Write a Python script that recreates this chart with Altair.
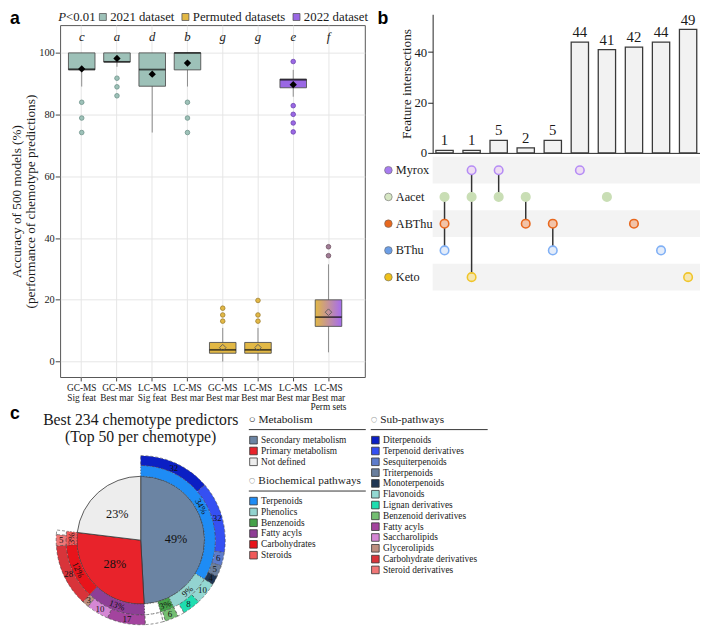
import json
import math
import altair as alt
import pandas as pd

SERIF = "Liberation Serif"
SANS = "Liberation Sans"
INK = "#1a1a1a"

# ---------------- panel a : model accuracy boxes ----------------
a_idx = [0, 1, 2, 3, 4, 5, 6, 7]
a_xlabels = [["GC-MS", "Sig feat"], ["GC-MS", "Best mar"], ["LC-MS", "Sig feat"], ["LC-MS", "Best mar"],
             ["GC-MS", "Best mar"], ["LC-MS", "Best mar"], ["LC-MS", "Best mar"], ["LC-MS", "Best mar", "Perm sets"]]
a_group = ["2021 dataset", "2021 dataset", "2021 dataset", "2021 dataset",
           "Permuted datasets", "Permuted datasets", "2022 dataset", "Perm sets"]
a_q1 = [94.5, 97.1, 89.2, 94.5, 2.7, 2.7, 88.7, 11.4]
a_median = [94.7, 97.1, 94.6, 100.0, 3.8, 3.8, 91.3, 14.4]
a_q3 = [100.0, 100.0, 100.0, 100.0, 6.2, 6.2, 91.5, 20.0]
a_low = [89.1, 95.5, 74.2, 89.1, 0.0, 0.3, 85.8, 3.0]
a_high = [100.0, 100.0, 100.0, 100.0, 10.9, 10.9, 94.5, 31.5]
a_mean = [94.8, 98.2, 93.1, 96.7, 4.5, 4.5, 89.7, 16.0]
a_letters = ["c", "a", "d", "b", "g", "g", "e", "f"]
a_out_idx = [0, 0, 0, 1, 1, 1, 3, 3, 3, 4, 4, 4, 5, 5, 5, 6, 6, 6, 6, 6, 7, 7]
a_out_val = [84.0, 78.9, 74.2, 91.8, 89.0, 86.1, 84.0, 78.9, 74.2, 17.3, 15.1, 13.1,
             19.8, 15.1, 13.1, 97.2, 82.9, 80.1, 77.3, 74.4, 34.3, 37.2]
a_legend = ["2021 dataset", "Permuted datasets", "2022 dataset"]
a_all_groups = ["2021 dataset", "Permuted datasets", "2022 dataset", "Perm sets"]

TEAL = "#9DC1B8"
GOLD = "#E2B845"
PURPLE = "#9A68E4"

box_df = pd.DataFrame({"idx": a_idx, "grp": a_group, "q1": a_q1, "med": a_median, "q3": a_q3,
                       "lo": a_low, "hi": a_high, "mean": a_mean, "letter": a_letters})
out_df = pd.DataFrame({"idx": a_out_idx, "val": a_out_val, "grp": [a_group[i] for i in a_out_idx]})

ya_scale = alt.Scale(domain=[-5, 109], nice=False, zero=False)
ya_axis = alt.Axis(values=[0, 20, 40, 60, 80, 100],
                   title=["Accuracy of 500 models (%)", "(performance of chemotype predictions)"],
                   titleFont=SERIF, titleFontSize=13.5, titleFontWeight="normal", titlePadding=1,
                   titleLineHeight=15, labelFont=SERIF, labelFontSize=10.5, labelPadding=1,
                   tickSize=5, grid=True, gridColor="#E6E6E6", domain=False)


def ya(field):
    return alt.Y(f"{field}:Q", scale=ya_scale, axis=ya_axis)


xa = alt.X("idx:O",
           scale=alt.Scale(type="band", paddingInner=0, paddingOuter=0.322, align=0.176),
           axis=alt.Axis(title=None, labelExpr=json.dumps(a_xlabels) + "[datum.value]", labelAngle=0,
                         labelFont=SERIF, labelFontSize=9.5, labelLineHeight=9.5, labelPadding=2,
                         tickSize=4, grid=True, gridColor="#E6E6E6", bandPosition=0.5, domain=False))

base_a = alt.Chart(box_df)
whisk = base_a.mark_rule(color="#8c8c8c", strokeWidth=1).encode(x=xa, y=ya("lo"), y2="hi")
boxes = base_a.transform_filter("datum.grp != 'Perm sets'").mark_bar(
    size=27, stroke="#505050", strokeWidth=0.9).encode(
    x=xa, y=ya("q1"), y2="q3",
    color=alt.Color("grp:N", scale=alt.Scale(domain=a_legend, range=[TEAL, GOLD, PURPLE]),
                    legend=alt.Legend(orient="none", legendX=37, legendY=-15, direction="horizontal",
                                      title=None, symbolType="square", symbolSize=50,
                                      symbolStrokeColor="#555", symbolStrokeWidth=0.8, symbolOpacity=1,
                                      labelFont=SERIF, labelFontSize=13, labelColor=INK, labelOffset=1,
                                      columnPadding=4, padding=0)))
gbox = base_a.transform_filter("datum.grp == 'Perm sets'").mark_bar(
    size=27, stroke="#505050", strokeWidth=0.9,
    fill=alt.LinearGradient(gradient="linear",
                            stops=[alt.GradientStop(color=GOLD, offset=0),
                                   alt.GradientStop(color="#A56CF0", offset=1)],
                            x1=0, x2=1, y1=0, y2=0)).encode(x=xa, y=ya("q1"), y2="q3")
med = base_a.mark_tick(size=27, thickness=1.8, color="#111").encode(x=xa, y=ya("med"))
outs = alt.Chart(out_df).mark_circle(size=22, strokeWidth=0.8, opacity=1).encode(
    x=xa, y=ya("val"),
    fill=alt.Fill("grp:N", scale=alt.Scale(domain=a_all_groups, range=[TEAL, GOLD, PURPLE, "#A07C96"]), legend=None),
    stroke=alt.Stroke("grp:N", scale=alt.Scale(domain=a_all_groups, range=["#6E938A", "#A08030", "#6E45B0", "#6E5060"]), legend=None))
mean_f = base_a.transform_filter("datum.grp == '2021 dataset' || datum.grp == '2022 dataset'").mark_point(
    shape="diamond", filled=True, size=55, color="#000", opacity=1).encode(x=xa, y=ya("mean"))
mean_h = base_a.transform_filter("datum.grp == 'Permuted datasets' || datum.grp == 'Perm sets'").mark_point(
    shape="diamond", filled=False, size=45, color="#5a5a5a", strokeWidth=0.9, opacity=1).encode(x=xa, y=ya("mean"))
letters = base_a.transform_calculate(ly="105").mark_text(
    font=SERIF, fontStyle="italic", fontSize=13, color=INK).encode(x=xa, y=ya("ly"), text="letter:N")

box_chart = alt.layer(whisk, boxes, gbox, med, outs, mean_f, mean_h, letters).properties(
    width=310, height=358, view=alt.ViewBackground(stroke="#555555", strokeWidth=1))

# header strip above the box plot (panel letter and significance note)
p1 = alt.Chart(pd.DataFrame({"t": ["P"]})).mark_text(
    font=SERIF, fontStyle="italic", fontSize=13, align="left", baseline="middle", color=INK).encode(
    x=alt.value(-2), y=alt.value(3), text="t:N")
p2 = alt.Chart(pd.DataFrame({"t": ["<0.01"]})).mark_text(
    font=SERIF, fontSize=13, align="left", baseline="middle", color=INK).encode(
    x=alt.value(6), y=alt.value(3), text="t:N")
la = alt.Chart(pd.DataFrame({"t": ["a"]})).mark_text(
    font=SANS, fontWeight="bold", fontSize=18, align="left", baseline="top", color="#000").encode(
    x=alt.value(-51), y=alt.value(-4), text="t:N")
header_a = alt.layer(p1, p2, la).properties(width=310, height=11)

panel_a = alt.vconcat(header_a, box_chart, spacing=0, bounds="flush").resolve_scale(
    color="independent", fill="independent", stroke="independent")

# ---------------- panel b : intersections ----------------
b_cols = [0, 1, 2, 3, 4, 5, 6, 7, 8, 9]
b_counts = [1, 1, 5, 2, 5, 44, 41, 42, 44, 49]
b_sets = ["Myrox", "Aacet", "ABThu", "BThu", "Keto"]
b_members = [["Aacet", "ABThu", "BThu"], ["Myrox", "Aacet", "Keto"], ["Myrox", "Aacet"], ["Aacet", "ABThu"],
             ["ABThu", "BThu"], ["Myrox"], ["Aacet"], ["ABThu"], ["BThu"], ["Keto"]]
b_label_col = ["#A87CF0", "#D6E6C3", "#E8681E", "#6C9EE6", "#EFC11B"]
b_fill_col = ["#EEDDF2", "#C9DEB5", "#F2C3A8", "#E3ECFA", "#F5E6B0"]
b_stroke_col = ["#B58CF5", "#C9DEB5", "#E8681E", "#80B0F5", "#F0C52A"]

bar_df = pd.DataFrame({"col": b_cols, "n": b_counts})
mem_rows = [{"col": c, "set": s} for c, ms in zip(b_cols, b_members) for s in ms]
mem_df = pd.DataFrame(mem_rows)
conn_rows = []
for c, ms in zip(b_cols, b_members):
    if len(ms) > 1:
        order = sorted(ms, key=b_sets.index)
        conn_rows.append({"col": c, "top": order[0], "bottom": order[-1]})
conn_df = pd.DataFrame(conn_rows)
set_df = pd.DataFrame({"set": b_sets})
stripe_df = pd.DataFrame({"set": b_sets[::2]})

B_W = 272
xb_scale = alt.Scale(type="band", domain=b_cols, paddingInner=0.36, paddingOuter=0.12)
xb_bars = alt.X("col:O", scale=xb_scale,
                axis=alt.Axis(labels=False, ticks=False, title=None, domain=True, domainColor="#222", grid=False))
yb = alt.Y("n:Q", scale=alt.Scale(domain=[0, 55], nice=False),
           axis=alt.Axis(values=[0, 20, 40], title="Feature intersections", titleFont=SERIF,
                         titleFontSize=13.5, titleFontWeight="normal", titlePadding=1,
                         labelFont=SERIF, labelFontSize=13, labelPadding=1, tickSize=5, grid=False,
                         domainColor="#222", tickColor="#222"))
bars = alt.Chart(bar_df).mark_bar(fill="#F2F2F2", stroke="#3a3a3a", strokeWidth=1.3).encode(x=xb_bars, y=yb)
bar_txt = alt.Chart(bar_df).mark_text(font=SERIF, fontSize=15, baseline="bottom", dy=-2, color=INK).encode(
    x=xb_bars, y=yb, text="n:Q")
lb = alt.Chart(pd.DataFrame({"t": ["b"]})).mark_text(
    font=SANS, fontWeight="bold", fontSize=18, align="left", baseline="top", color="#000").encode(
    x=alt.value(-56), y=alt.value(-4), text="t:N")
b_top = alt.layer(bars, bar_txt, lb).properties(width=B_W, height=141)

ym_scale = alt.Scale(type="band", domain=b_sets, paddingInner=0, paddingOuter=0)
ym_axis = alt.Axis(title=None, labelAlign="left", labelPadding=38, ticks=False, tickSize=0, domain=False,
                   labelFont=SERIF, labelFontSize=12.5, labelColor=INK, grid=False)
xm = alt.X("col:O", scale=xb_scale, axis=None)
stripes = alt.Chart(stripe_df).mark_rect(color="#F3F3F3").encode(
    y=alt.Y("set:N", scale=ym_scale, axis=ym_axis), x=alt.value(0), x2=alt.value(B_W))
side_dots = alt.Chart(set_df).mark_circle(size=60, stroke="#666", strokeWidth=0.6, opacity=1).encode(
    x=alt.value(-45), y=alt.Y("set:N", scale=ym_scale, axis=ym_axis),
    color=alt.Color("set:N", scale=alt.Scale(domain=b_sets, range=b_label_col), legend=None))
conns = alt.Chart(conn_df).mark_rule(color="#333", strokeWidth=1.5).encode(
    x=xm, y=alt.Y("top:N", scale=ym_scale, axis=ym_axis), y2=alt.Y2("bottom"))
dots = alt.Chart(mem_df).mark_circle(size=75, strokeWidth=1.6, opacity=1).encode(
    x=xm, y=alt.Y("set:N", scale=ym_scale, axis=ym_axis),
    fill=alt.Fill("set:N", scale=alt.Scale(domain=b_sets, range=b_fill_col), legend=None),
    stroke=alt.Stroke("set:N", scale=alt.Scale(domain=b_sets, range=b_stroke_col), legend=None))
b_matrix = alt.layer(stripes, side_dots, conns, dots).properties(width=B_W, height=136)

panel_b = alt.vconcat(b_top, b_matrix, spacing=4, bounds="flush").resolve_scale(
    color="independent", fill="independent", stroke="independent")

# ---------------- panel c : sunburst ----------------
TOTAL = 234
c_met_names = ["Secondary metabolism", "Primary metabolism", "Not defined"]
c_met_n = [115, 65, 54]
c_met_colors = ["#6B84A3", "#E8232B", "#EDEDED"]

c_path_names = ["Terpenoids", "Phenolics", "Benzenoids", "other", "Fatty acyls", "Carbohydrates", "Steroids"]
c_path_n = [79, 21, 7, 8, 30, 28, 7]
c_path_legend = ["Terpenoids", "Phenolics", "Benzenoids", "Fatty acyls", "Carbohydrates", "Steroids"]
c_path_colors = ["#1E8CF5", "#93D3D0", "#46A24A", "#8E3E96", "#E8141B", "#F05A5A"]

c_sub_names = ["Diterpenoids", "Terpenoid derivatives", "Sesquiterpenoids", "Triterpenoids", "Monoterpenoids",
               "Flavonoids", "Lignan derivatives", "other", "Benzenoid derivatives", "other", "other",
               "Fatty acyls", "Saccharolipids", "Glycerolipids", "Carbohydrate derivatives",
               "Steroid derivatives", "other"]
c_sub_n = [32, 32, 6, 5, 4, 10, 8, 3, 6, 1, 8, 17, 10, 3, 28, 5, 2]
c_sub_legend = ["Diterpenoids", "Terpenoid derivatives", "Sesquiterpenoids", "Triterpenoids", "Monoterpenoids",
                "Flavonoids", "Lignan derivatives", "Benzenoid derivatives", "Fatty acyls", "Saccharolipids",
                "Glycerolipids", "Carbohydrate derivatives", "Steroid derivatives"]
c_sub_colors = ["#0B1FC4", "#3550F2", "#5E7CCB", "#6A7F9E", "#1E3553", "#93D8D2", "#1FDDB0", "#74BE72",
                "#A3449E", "#D587D4", "#BD8F80", "#D8343A", "#F07777"]

R0, R1, R2 = 65, 76, 86


def ring_df(names, counts):
    return pd.DataFrame({"k": list(range(len(names))), "name": names, "n": counts})


def cum(chart):
    return chart.transform_window(cum="sum(n)", sort=[alt.SortField("k")], frame=[None, 0]).transform_calculate(
        start="datum.cum - datum.n", mid="datum.cum - datum.n / 2",
        pct="format(datum.n / %d * 100, '.0f') + '%%'" % TOTAL,
        deg="(datum.cum - datum.n / 2) / %d * 360" % TOTAL).transform_calculate(
        rot="((datum.deg > 90 && datum.deg < 270) ? datum.deg - 180 : datum.deg) + 360")


th_scale = alt.Scale(domain=[0, TOTAL], range=[0, 2 * math.pi])


def leg(title, values, x, y):
    return alt.Legend(orient="none", legendX=x, legendY=y, title=title, values=values,
                      titleFont=SERIF, titleFontSize=11.5, titleFontWeight="normal", titleColor=INK,
                      titlePadding=10, labelFont=SERIF, labelFontSize=9.5, labelColor=INK, labelOffset=3,
                      symbolType="square", symbolSize=60, symbolStrokeColor="#333", symbolStrokeWidth=0.8,
                      symbolOpacity=1, rowPadding=-1, padding=0)


met = cum(alt.Chart(ring_df(c_met_names, c_met_n)))
path = cum(alt.Chart(ring_df(c_path_names, c_path_n)))
sub = cum(alt.Chart(ring_df(c_sub_names, c_sub_n)))

met_arc = met.mark_arc(radius=R0, stroke="#333", strokeWidth=0.8).encode(
    theta=alt.Theta("start:Q", scale=th_scale), theta2="cum",
    color=alt.Color("name:N", scale=alt.Scale(domain=c_met_names, range=c_met_colors),
                    legend=leg("○ Metabolism", c_met_names, 192, -46)))
path_arc = path.mark_arc(radius=R1, radius2=R0, stroke="#444", strokeWidth=0.6, strokeDash=[1.5, 1.5]).encode(
    theta=alt.Theta("start:Q", scale=th_scale), theta2="cum",
    color=alt.Color("name:N", scale=alt.Scale(domain=c_path_legend + ["other"], range=c_path_colors + ["#FFFFFF"]),
                    legend=leg("◌ Biochemical pathways", c_path_legend, 192, 16)))
sub_arc = sub.mark_arc(radius=R2, radius2=R1, stroke="#444", strokeWidth=0.6, strokeDash=[3, 2]).encode(
    theta=alt.Theta("start:Q", scale=th_scale), theta2="cum",
    color=alt.Color("name:N", scale=alt.Scale(domain=c_sub_legend + ["other"], range=c_sub_colors + ["#FFFFFF"]),
                    legend=leg("◌ Sub-pathways", c_sub_legend, 316, -46)))

met_txt = met.mark_text(radius=36, font=SERIF, fontSize=12.5, color="#111").encode(
    theta=alt.Theta("mid:Q", scale=th_scale, stack=None), text="pct:N")
path_txt = path.transform_filter("datum.name != 'other'").mark_text(
    radius=(R0 + R1) / 2, font=SERIF, fontSize=9, color="#111").encode(
    theta=alt.Theta("mid:Q", scale=th_scale, stack=None), text="pct:N", angle=alt.Angle("rot:Q", scale=None))
sub_txt = sub.transform_filter("datum.name != 'other' && datum.n >= 3").mark_text(
    radius=(R1 + R2) / 2, font=SERIF, fontSize=9, color="#111").encode(
    theta=alt.Theta("mid:Q", scale=th_scale, stack=None), text="n:Q")

one = pd.DataFrame({"t": ["c"]})
lc = alt.Chart(one).mark_text(font=SANS, fontWeight="bold", fontSize=18, align="left", baseline="top",
                              color="#000").encode(x=alt.value(-51), y=alt.value(-55), text="t:N")
ttl = alt.Chart(pd.DataFrame({"t": ["Best 234 chemotype predictors\n(Top 50 per chemotype)"]})).mark_text(
    font=SERIF, fontSize=16, align="center", baseline="top", lineBreak="\n", lineHeight=17, color=INK).encode(
    x=alt.value(82), y=alt.value(-48), text="t:N")
ul1 = alt.Chart(one).mark_rule(color="#333", strokeWidth=1).encode(
    x=alt.value(192), x2=alt.value(311), y=alt.value(-30.5))
ul2 = alt.Chart(one).mark_rule(color="#333", strokeWidth=1).encode(
    x=alt.value(316), x2=alt.value(435), y=alt.value(-30.5))
ul3 = alt.Chart(one).mark_rule(color="#333", strokeWidth=1).encode(
    x=alt.value(192), x2=alt.value(311), y=alt.value(32))

pie = alt.layer(met_arc, path_arc, sub_arc, met_txt, path_txt, sub_txt, lc, ttl, ul1, ul2, ul3).resolve_scale(
    color="independent").properties(width=164, height=164)

top_row = alt.hconcat(panel_a, panel_b, spacing=8).resolve_scale(
    color="independent", fill="independent", stroke="independent")
chart = alt.vconcat(top_row, pie, spacing=-6).resolve_scale(
    color="independent", fill="independent", stroke="independent").properties(
    padding={"left": 0, "right": 0, "top": -4, "bottom": 0}, background="white").configure_view(
    strokeWidth=0).configure_axis(labelColor=INK, titleColor=INK, domainColor="#444", tickColor="#444",
                                  labelFont=SERIF, titleFont=SERIF).configure_legend(
    labelFont=SERIF, titleFont=SERIF).configure_text(font=SERIF)

chart.save("out.html", embed_options={"renderer": "svg", "actions": False})
